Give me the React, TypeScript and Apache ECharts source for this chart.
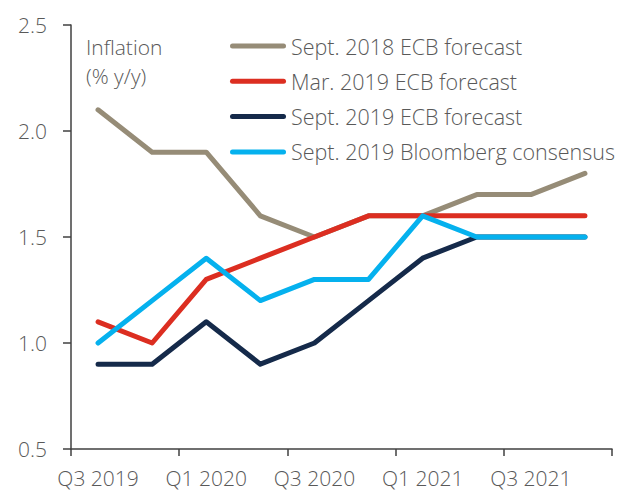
import React, { useEffect, useRef } from "react";
import * as echarts from "echarts";

const categories = ["Q3 2019", "Q4 2019", "Q1 2020", "Q2 2020", "Q3 2020", "Q4 2020", "Q1 2021", "Q2 2021", "Q3 2021", "Q4 2021"];
const sept2018Ecb = [2.1, 1.9, 1.9, 1.6, 1.5, 1.6, 1.6, 1.7, 1.7, 1.8];
const mar2019Ecb = [1.1, 1.0, 1.3, 1.4, 1.5, 1.6, 1.6, 1.6, 1.6, 1.6];
const sept2019Ecb = [0.9, 0.9, 1.1, 0.9, 1.0, 1.2, 1.4, 1.5, 1.5, 1.5];
const sept2019Bloomberg = [1.0, 1.2, 1.4, 1.2, 1.3, 1.3, 1.6, 1.5, 1.5, 1.5];
const seriesNames = ["Sept. 2018 ECB forecast", "Mar. 2019 ECB forecast", "Sept. 2019 ECB forecast", "Sept. 2019 Bloomberg consensus"];
const colors = ["#968C77", "#DC2E21", "#152A4A", "#05B1EE"];

const FONT = "'Open Sans', 'Noto Sans', sans-serif";
const TEXT = "#595959";

export default function App() {
  const ref = useRef<HTMLDivElement>(null);
  useEffect(() => {
    document.body.style.margin = "0";
    const chart = echarts.init(ref.current!, null, { renderer: "svg" });
    const data = [sept2018Ecb, mar2019Ecb, sept2019Ecb, sept2019Bloomberg];
    chart.setOption({
      animation: false,
      textStyle: { fontFamily: FONT },
      grid: { left: 71, right: 5, top: 25, bottom: 42 },
      legend: {
        orient: "vertical",
        left: 230,
        top: 35,
        padding: 0,
        itemWidth: 56,
        itemHeight: 5,
        itemGap: 13.3,
        icon: "path://M2.5,0 H53.5 A2.5,2.5 0 0 1 53.5,5 H2.5 A2.5,2.5 0 0 1 2.5,0 Z",
        textStyle: { color: TEXT, fontSize: 21.5, fontWeight: 300, fontFamily: FONT, lineHeight: 21 },
        data: seriesNames,
      },
      graphic: [
        {
          type: "text",
          left: 86,
          top: 32,
          style: {
            text: "Inflation\n(% y/y)",
            fill: TEXT,
            font: `300 21px ${FONT}`,
            lineHeight: 29,
          },
        },
      ],
      xAxis: {
        type: "category",
        data: categories,
        boundaryGap: true,
        axisLine: { lineStyle: { color: "#404040", width: 1.5 } },
        axisTick: { show: true, interval: 1, length: 7, lineStyle: { color: "#404040", width: 1.5 } },
        axisLabel: { interval: 1, color: TEXT, fontSize: 21, fontWeight: 300, margin: 18, fontFamily: FONT },
        splitLine: { show: false },
      },
      yAxis: {
        type: "value",
        min: 0.5,
        max: 2.5,
        interval: 0.5,
        axisLine: { show: true, lineStyle: { color: "#404040", width: 1.5 } },
        axisTick: { show: true, length: 8, lineStyle: { color: "#404040", width: 1.5 } },
        axisLabel: { color: TEXT, fontSize: 21, fontWeight: 300, margin: 24, fontFamily: FONT, formatter: (v: number) => v.toFixed(1) },
        splitLine: { show: false },
      },
      series: seriesNames.map((name, i) => ({
        name,
        type: "line",
        data: data[i],
        symbol: "none",
        color: colors[i],
        lineStyle: { width: 5, color: colors[i], cap: "round", join: "round" },
      })),
    });
    return () => chart.dispose();
  }, []);
  return <div ref={ref} style={{ width: 617, height: 491 }} />;
}
